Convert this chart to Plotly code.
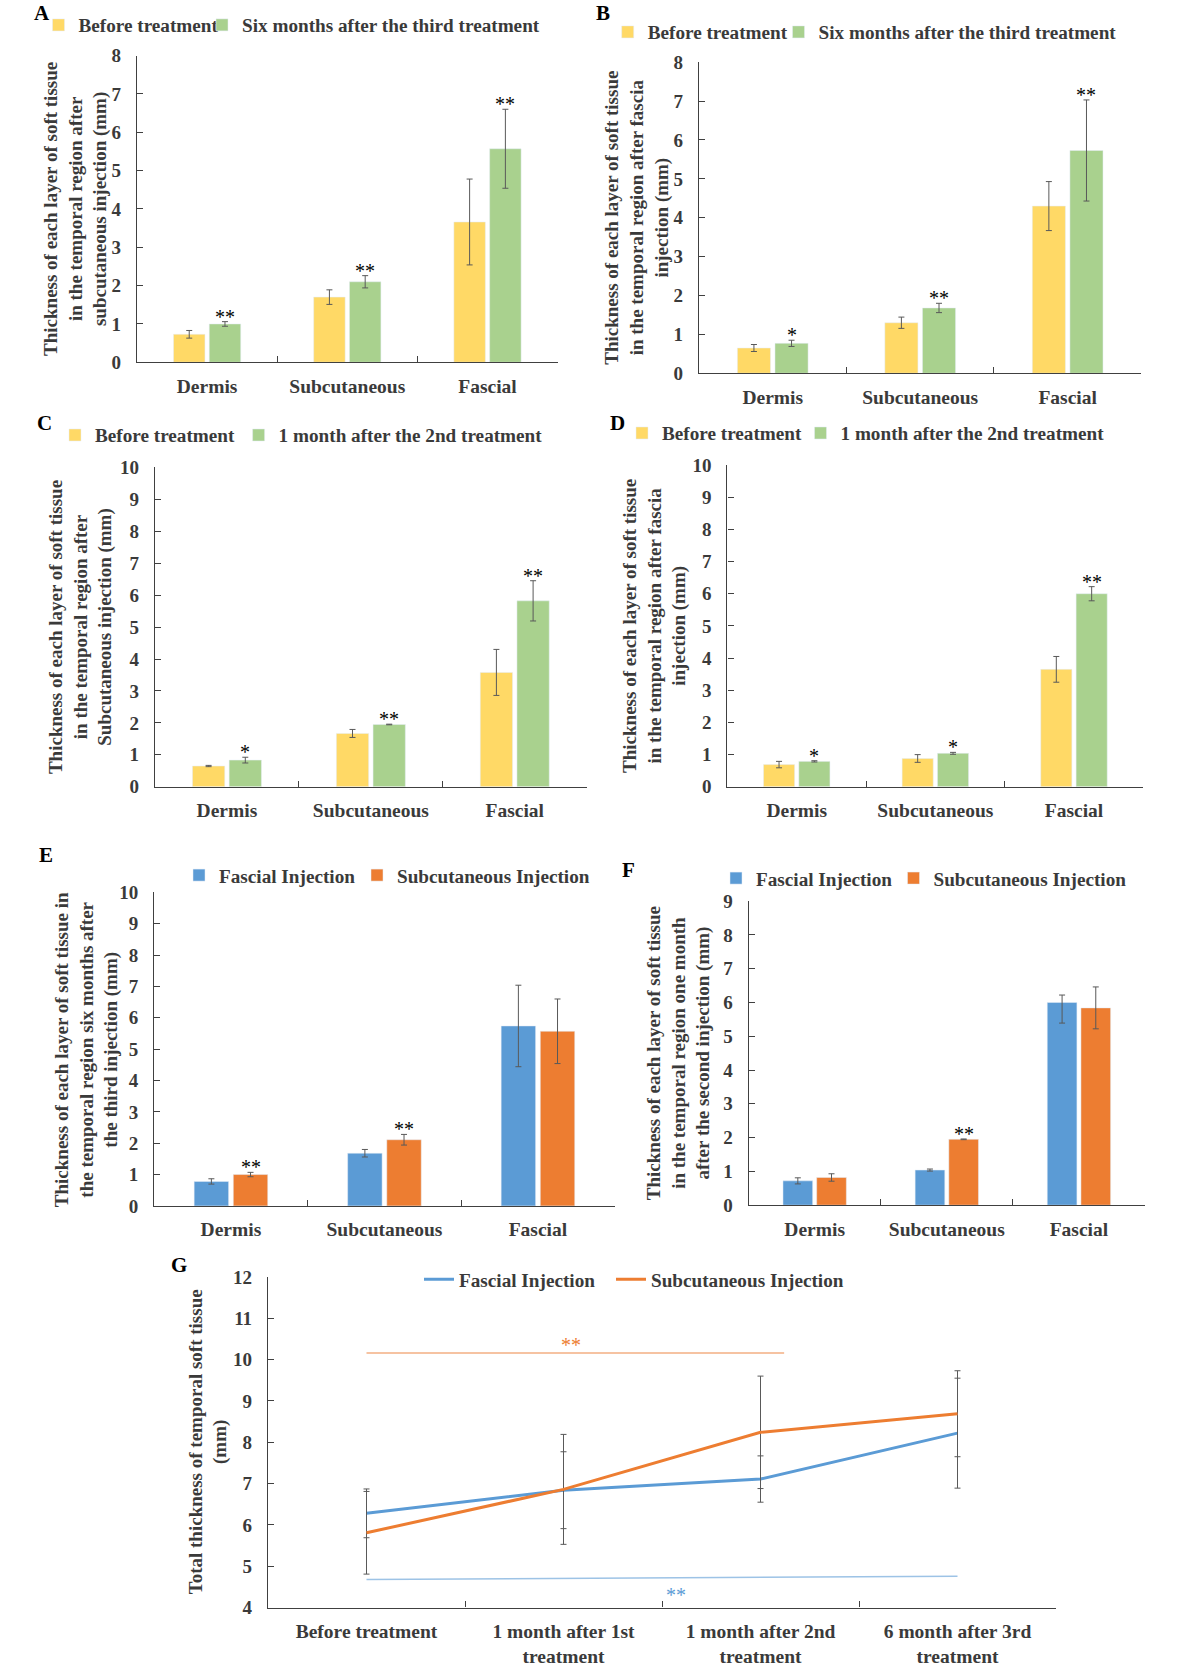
import plotly.graph_objects as go

W, H = 1185, 1672
FONT = "Liberation Serif"
TXT = "#3a3a3a"
AXC = "#404040"
ERRC = "#595959"
YELLOW = "#FFD966"
GREEN = "#A9D18E"
BLUE = "#5B9BD5"
ORANGE = "#ED7D31"

layers = ["Dermis", "Subcutaneous", "Fascial"]

# ---- Panel A: subcutaneous injection, 6 months after 3rd treatment
a_before = [0.73, 1.70, 3.66]
a_before_err = [0.10, 0.19, 1.12]
a_after = [1.00, 2.10, 5.57]
a_after_err = [0.06, 0.16, 1.03]
a_stars = ["**", "**", "**"]

# ---- Panel B: fascia injection, 6 months after 3rd treatment
b_before = [0.65, 1.30, 4.30]
b_before_err = [0.09, 0.145, 0.63]
b_after = [0.77, 1.68, 5.73]
b_after_err = [0.08, 0.12, 1.30]
b_stars = ["*", "**", "**"]

# ---- Panel C: subcutaneous injection, 1 month after 2nd treatment
c_before = [0.65, 1.67, 3.58]
c_before_err = [0.02, 0.125, 0.72]
c_after = [0.835, 1.95, 5.82]
c_after_err = [0.09, 0.01, 0.63]
c_stars = ["*", "**", "**"]

# ---- Panel D: fascia injection, 1 month after 2nd treatment
d_before = [0.69, 0.88, 3.65]
d_before_err = [0.10, 0.12, 0.40]
d_after = [0.79, 1.04, 6.00]
d_after_err = [0.02, 0.03, 0.22]
d_stars = ["*", "*", "**"]

# ---- Panel E: six months after third injection
e_fascial = [0.78, 1.68, 5.74]
e_fascial_err = [0.085, 0.12, 1.30]
e_subcut = [1.00, 2.11, 5.57]
e_subcut_err = [0.07, 0.17, 1.03]
e_stars = ["**", "**", ""]

# ---- Panel F: one month after second injection
f_fascial = [0.72, 1.04, 6.00]
f_fascial_err_plus = [0.09, 0.03, 0.22]
f_fascial_err_minus = [0.09, 0.03, 0.61]
f_subcut = [0.82, 1.95, 5.84]
f_subcut_err = [0.11, 0.01, 0.62]
f_stars = ["", "**", ""]

# ---- Panel G: total thickness over time
timepoints = ["Before treatment", "1 month after 1st<br>treatment",
              "1 month after 2nd<br>treatment", "6 month after 3rd<br>treatment"]
g_fascial = [6.28, 6.84, 7.11, 8.22]
g_fascial_err = [0.59, 0.93, 0.56, 1.33]
g_subcut = [5.81, 6.86, 8.24, 8.69]
g_subcut_err = [1.00, 1.33, 1.36, 1.04]
# significance brackets: (x start, x end, y start, y end) in category index / mm
g_sig_subcut = [0.0, 2.12, 10.16, 10.16]
g_sig_fascial = [0.0, 3.0, 4.68, 4.76]
g_sig_subcut_star = [1.04, 10.48]
g_sig_fascial_star = [1.57, 4.42]

fig = go.Figure()

# vertical compensation for how the page is photographed
YOFF, YSC = 10.1, 0.9872


def fx(px):
    return px / W


def fy(py):
    return 1 - ((py - YOFF) / YSC) / H


axes_cfg = {
    # key: (x0, x1, ytop, ybottom, ymin, ymax)
    1: (137, 557.6, 55.7, 362.3, 0, 8),
    2: (699, 1141.4, 62.3, 373.3, 0, 8),
    3: (155, 586.7, 467.3, 786.7, 0, 10),
    4: (727.4, 1143.3, 465, 786.7, 0, 10),
    5: (154.2, 614.7, 892.3, 1205.7, 0, 10),
    6: (748.6, 1145, 901, 1205, 0, 9),
    7: (268, 1056, 1276.7, 1607.3, 4, 12),
}

layout_axes = {}
for k, (x0, x1, yt, yb, ymin, ymax) in axes_cfg.items():
    xs = "xaxis" if k == 1 else f"xaxis{k}"
    ys = "yaxis" if k == 1 else f"yaxis{k}"
    xa = dict(domain=[fx(x0), fx(x1)], anchor="y" if k == 1 else f"y{k}",
              type="category", showline=True, linecolor=AXC, linewidth=1.2,
              ticks="inside", tickson="boundaries", ticklen=6, tickcolor=AXC,
              showgrid=False, zeroline=False, ticklabelstandoff=6,
              tickfont=dict(family=FONT, size=19.5, color=TXT, weight="bold"),
              fixedrange=True)
    if k == 7:
        xa["range"] = [-0.5, 3.5]
    ya = dict(domain=[fy(yb), fy(yt)], anchor="x" if k == 1 else f"x{k}",
              range=[ymin, ymax], dtick=1, showline=True, linecolor=AXC,
              linewidth=1.2, ticks="inside", ticklen=6, tickcolor=AXC,
              showgrid=False, zeroline=False, ticklabelstandoff=11,
              tickfont=dict(family=FONT, size=19, color=TXT, weight="bold"),
              fixedrange=True)
    layout_axes[xs] = xa
    layout_axes[ys] = ya

legend_counter = [0]
legends = {}


def add_legend(text_x, y_center):
    legend_counter[0] += 1
    n = legend_counter[0]
    lid = "legend" if n == 1 else f"legend{n}"
    legends[lid] = dict(x=fx(text_x - 40), y=fy(y_center), xanchor="left",
                        yanchor="middle", orientation="h",
                        bgcolor="rgba(0,0,0,0)",
                        font=dict(family=FONT, size=19.2, color=TXT, weight="bold"))
    return lid


def err(arr, arrm=None):
    d = dict(type="data", array=arr, color=ERRC, thickness=1, width=3, visible=True)
    if arrm is not None:
        d["symmetric"] = False
        d["arrayminus"] = arrm
    return d


def bar_pair(k, v1, e1, n1, c1, v2, e2, n2, c2, leg1, leg2, e1m=None):
    xr = "x" if k == 1 else f"x{k}"
    yr = "y" if k == 1 else f"y{k}"
    fig.add_trace(go.Bar(x=layers, y=v1, name=n1, marker_color=c1,
                         error_y=err(e1, e1m), xaxis=xr, yaxis=yr,
                         legend=add_legend(*leg1)))
    fig.add_trace(go.Bar(x=layers, y=v2, name=n2, marker_color=c2,
                         error_y=err(e2), xaxis=xr, yaxis=yr,
                         legend=add_legend(*leg2)))


bar_pair(1, a_before, a_before_err, "Before treatment", YELLOW,
         a_after, a_after_err, "Six months after the third treatment", GREEN,
         (78.5, 25), (242, 25))
bar_pair(2, b_before, b_before_err, "Before treatment", YELLOW,
         b_after, b_after_err, "Six months after the third treatment", GREEN,
         (647.7, 32), (818.5, 32))
bar_pair(3, c_before, c_before_err, "Before treatment", YELLOW,
         c_after, c_after_err, "1 month after the 2nd treatment", GREEN,
         (95, 435), (278.6, 435))
bar_pair(4, d_before, d_before_err, "Before treatment", YELLOW,
         d_after, d_after_err, "1 month after the 2nd treatment", GREEN,
         (662, 433), (840.5, 433))
bar_pair(5, e_fascial, e_fascial_err, "Fascial Injection", BLUE,
         e_subcut, e_subcut_err, "Subcutaneous Injection", ORANGE,
         (219, 875), (397, 875))
bar_pair(6, f_fascial, f_fascial_err_plus, "Fascial Injection", BLUE,
         f_subcut, f_subcut_err, "Subcutaneous Injection", ORANGE,
         (756, 878), (933.5, 878), e1m=f_fascial_err_minus)

# Panel G lines
fig.add_trace(go.Scatter(x=timepoints, y=g_fascial, mode="lines", name="Fascial Injection",
                         line=dict(color=BLUE, width=3), error_y=err(g_fascial_err),
                         xaxis="x7", yaxis="y7", legend=add_legend(459, 1279)))
fig.add_trace(go.Scatter(x=timepoints, y=g_subcut, mode="lines", name="Subcutaneous Injection",
                         line=dict(color=ORANGE, width=3), error_y=err(g_subcut_err),
                         xaxis="x7", yaxis="y7", legend=add_legend(651, 1279)))

annotations = []
shapes = []

# star annotations above the second bar of each group
GROUP_OFF = (1 - 0.49) / 4
star_sets = [
    (1, a_stars, a_after, a_after_err),
    (2, b_stars, b_after, b_after_err),
    (3, c_stars, c_after, c_after_err),
    (4, d_stars, d_after, d_after_err),
    (5, e_stars, e_subcut, e_subcut_err),
    (6, f_stars, f_subcut, f_subcut_err),
]
for k, stars, vals, errs in star_sets:
    xr = "x" if k == 1 else f"x{k}"
    yr = "y" if k == 1 else f"y{k}"
    for i, s in enumerate(stars):
        if not s:
            continue
        annotations.append(dict(x=i + GROUP_OFF, y=vals[i] + errs[i], xref=xr, yref=yr,
                                text=s, showarrow=False, yanchor="bottom", yshift=-8,
                                font=dict(family=FONT, size=20, color="#000000")))

# significance brackets in G
shapes.append(dict(type="line", xref="x7", yref="y7",
                   x0=g_sig_subcut[0], x1=g_sig_subcut[1],
                   y0=g_sig_subcut[2], y1=g_sig_subcut[3],
                   line=dict(color="#F6C3A2", width=2)))
shapes.append(dict(type="line", xref="x7", yref="y7",
                   x0=g_sig_fascial[0], x1=g_sig_fascial[1],
                   y0=g_sig_fascial[2], y1=g_sig_fascial[3],
                   line=dict(color="#9DC3E6", width=1.5)))
annotations.append(dict(x=g_sig_subcut_star[0], y=g_sig_subcut_star[1], xref="x7", yref="y7",
                        text="**", showarrow=False, yshift=-5,
                        font=dict(family=FONT, size=20, color=ORANGE)))
annotations.append(dict(x=g_sig_fascial_star[0], y=g_sig_fascial_star[1], xref="x7", yref="y7",
                        text="**", showarrow=False, yshift=-5,
                        font=dict(family=FONT, size=20, color=BLUE)))

# y-axis titles
ytitles = [
    (76, 1, "Thickness of each layer of soft tissue<br>in the temporal region after<br>subcutaneous injection (mm)"),
    (637, 2, "Thickness of each layer of soft tissue<br>in the temporal region after fascia<br>injection (mm)"),
    (80, 3, "Thickness of each layer of soft tissue<br>in the temporal region after<br>Subcutaneous injection (mm)"),
    (655, 4, "Thickness of each layer of soft tissue<br>in the temporal region after fascia<br>injection (mm)"),
    (86, 5, "Thickness of each layer of soft tissue in<br>the temporal region six months after<br>the third injection (mm)"),
    (678, 6, "Thickness of each layer of soft tissue<br>in the temporal region one month<br>after the second injection (mm)"),
    (208, 7, "Total thickness of temporal soft tissue<br>(mm)"),
]
for xc, k, t in ytitles:
    _, _, yt, yb, _, _ = axes_cfg[k]
    annotations.append(dict(x=fx(xc), y=fy((yt + yb) / 2), xref="paper", yref="paper",
                            text=t, textangle=-90, showarrow=False,
                            xanchor="center", yanchor="middle",
                            font=dict(family=FONT, size=19, color=TXT, weight="bold")))

# panel letters
letters = [("A", 42, 13), ("B", 603, 13), ("C", 44, 423), ("D", 617, 423),
           ("E", 46, 855), ("F", 628, 870), ("G", 179, 1265)]
for t, xp, yp in letters:
    annotations.append(dict(x=fx(xp), y=fy(yp), xref="paper", yref="paper", text=t,
                            showarrow=False, xanchor="center", yanchor="middle",
                            font=dict(family=FONT, size=21, color="#000000", weight="bold")))

fig.update_layout(
    width=W, height=H, margin=dict(l=0, r=0, t=0, b=0),
    paper_bgcolor="white", plot_bgcolor="white",
    barmode="group", bargap=0.49, bargroupgap=0.12,
    showlegend=True, annotations=annotations, shapes=shapes,
    font=dict(family=FONT, color=TXT),
    **layout_axes, **legends,
)

fig.write_html("out.html")
